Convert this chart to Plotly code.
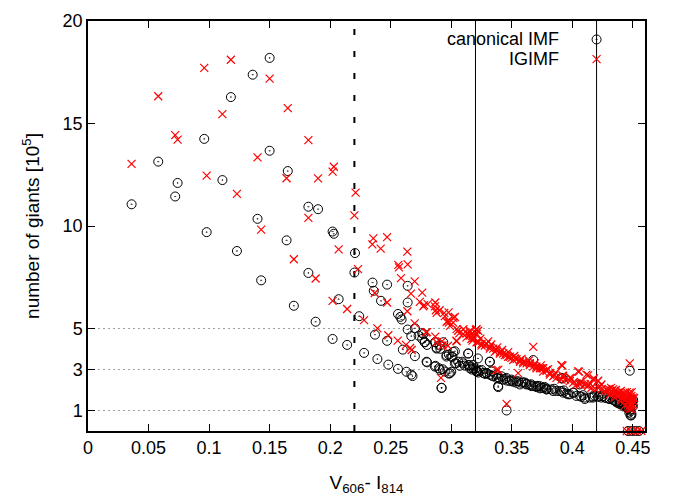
import plotly.graph_objects as go

# ---- data ----
canon_x = [0.036, 0.058, 0.074, 0.072, 0.096, 0.098, 0.111, 0.118, 0.123, 0.136, 0.140, 0.143,
           0.150, 0.150, 0.164, 0.165, 0.170, 0.182, 0.182, 0.188, 0.190, 0.202, 0.203, 0.202,
           0.207, 0.214, 0.2205, 0.220, 0.224,
           0.228, 0.235, 0.236, 0.247, 0.242, 0.237, 0.239, 0.247, 0.248, 0.256, 0.263, 0.267,
           0.268, 0.264, 0.264, 0.256, 0.258, 0.259, 0.260, 0.264, 0.267, 0.270, 0.270, 0.273,
           0.276, 0.276, 0.278, 0.280, 0.280, 0.287, 0.288, 0.291, 0.287, 0.290, 0.293, 0.298,
           0.300, 0.292, 0.296, 0.298, 0.301, 0.303, 0.304, 0.307, 0.309, 0.311, 0.314, 0.315,
           0.318, 0.320, 0.321, 0.322,
           0.3154, 0.3182, 0.3209, 0.3237, 0.3264, 0.3292, 0.3319, 0.3347, 0.3374, 0.3402,
           0.3429, 0.3457, 0.3484, 0.3512, 0.3539, 0.3567, 0.3594, 0.3622, 0.3649, 0.3677,
           0.3704, 0.3732, 0.3759, 0.3787, 0.3828, 0.3869, 0.3910, 0.3952, 0.3979, 0.4034,
           0.4075, 0.4103, 0.4144, 0.4185, 0.4213, 0.4240, 0.4282, 0.4309, 0.4337, 0.4364,
           0.4392, 0.4419, 0.4447, 0.4460, 0.4474, 0.4488, 0.4502, 0.4496,
           0.3170, 0.3225, 0.3280, 0.3335, 0.3390, 0.3445, 0.3500, 0.3555, 0.3610, 0.3660,
           0.3715, 0.3770, 0.3850, 0.3930, 0.4010, 0.4090, 0.4170, 0.4250, 0.4320,
           0.3319, 0.3388, 0.3457, 0.3677, 0.3918, 0.4474,
           0.436, 0.438, 0.440, 0.442, 0.444, 0.446, 0.448, 0.449, 0.450, 0.447, 0.448,
           0.2769, 0.2782, 0.2865, 0.2879, 0.2906, 0.2934, 0.2961, 0.3002, 0.3016, 0.3030,
           0.3057, 0.3099, 0.3140, 0.3154, 0.3140, 0.3209, 0.3250, 0.3291, 0.3318, 0.3332,
           0.3373, 0.3387, 0.3415, 0.3456, 0.3497, 0.3538, 0.3579, 0.3620, 0.3662, 0.3703,
           0.3745, 0.3786, 0.2796, 0.2865, 0.2906, 0.2947, 0.2989, 0.2920,
           0.3731, 0.3786, 0.3841, 0.3896, 0.3924, 0.3965, 0.4006, 0.4061, 0.4102, 0.4171,
           0.4226, 0.4267, 0.4308, 0.4350, 0.4391, 0.4432, 0.4460, 0.4487, 0.4501, 0.4061,
           0.3910,
           0.446, 0.449, 0.452, 0.455]
canon_y = [11.06, 13.14, 12.10, 11.44, 14.25, 9.70, 12.24, 16.29, 8.78, 17.38, 10.35, 7.35,
           18.20, 13.67, 9.30, 12.68, 6.11, 10.94, 7.71, 5.33, 10.82, 9.73, 9.62, 4.49,
           6.43, 4.20, 8.68, 7.73, 5.60,
           3.81, 7.24, 6.84, 7.14, 6.35, 4.70, 3.51, 4.40, 3.24, 3.03, 2.89, 2.75,
           2.68, 7.08, 6.27, 5.71, 5.57, 5.44, 3.97, 4.95, 4.63, 5.01, 3.65, 4.65,
           4.78, 4.49, 4.33, 4.20, 3.35, 4.33, 4.06, 4.01, 3.18, 3.06, 3.01, 2.80,
           2.89, 2.10, 3.63, 3.73, 3.62, 3.89, 3.30, 3.18, 3.38, 3.19, 3.78, 3.22,
           3.22, 3.06, 2.94, 3.54,
           3.14, 3.06, 2.90, 2.94, 2.83, 2.83, 2.75, 2.67, 2.59, 2.54,
           2.51, 2.46, 2.43, 2.40, 2.35, 2.27, 2.38, 2.30, 2.24, 2.19,
           2.14, 2.08, 2.11, 2.08, 2.03, 1.95, 1.95, 1.83, 1.79, 1.71,
           1.67, 1.56, 1.63, 1.71, 1.67, 1.63, 1.60, 1.56, 1.51, 1.40,
           1.32, 1.29, 1.19, 1.08, 1.00, 0.84, 1.51, 1.29,
           3.00, 2.85, 2.78, 2.70, 2.62, 2.55, 2.45, 2.42, 2.36, 2.28,
           2.20, 2.15, 2.06, 1.98, 1.87, 1.75, 1.68, 1.70, 1.62,
           3.38, 2.14, 1.00, 3.46, 2.56, 2.94,
           1.45, 1.35, 1.40, 1.20, 1.25, 1.30, 1.05, 1.45, 1.20, 0.90, 0.76,
           4.73, 4.33, 4.33, 4.02, 4.17, 4.33, 3.70, 3.62, 3.86, 3.30,
           3.38, 3.30, 3.22, 3.06, 3.78, 2.90, 2.98, 2.82, 3.38, 2.90,
           2.75, 2.19, 2.67, 2.59, 2.51, 2.43, 2.35, 2.27, 2.19, 2.19,
           2.11, 2.03, 3.38, 3.14, 2.98, 2.90, 2.82, 2.11,
           2.19, 2.03, 1.95, 1.95, 1.87, 1.79, 1.87, 1.71, 1.63, 1.63,
           1.71, 1.63, 1.56, 1.48, 1.40, 1.24, 1.08, 0.76, 1.48, 2.27,
           2.59,
           0.0, 0.0, 0.0, 0.0]

igimf_x = [0.036, 0.058, 0.072, 0.074, 0.096, 0.098, 0.111, 0.118, 0.123, 0.140, 0.143, 0.150,
           0.164, 0.165, 0.170, 0.182, 0.182, 0.188, 0.190, 0.202, 0.203, 0.202, 0.207, 0.214,
           0.221, 0.220, 0.223,
           0.228, 0.2356, 0.2348, 0.247, 0.2417, 0.2368, 0.239, 0.247, 0.248, 0.2637, 0.264,
           0.2563, 0.2568, 0.2585, 0.2698, 0.2667, 0.2637, 0.2558, 0.2626, 0.266, 0.2673,
           0.2698, 0.276, 0.274, 0.2775, 0.2805, 0.280, 0.2868, 0.2873, 0.2904, 0.2942, 0.2978,
           0.2868, 0.2923, 0.2972, 0.2915, 0.2962, 0.298, 0.303, 0.3016, 0.3044, 0.3066, 0.310,
           0.3127, 0.3154, 0.3176, 0.321, 0.3204, 0.3044,
           0.3154, 0.3176, 0.3209, 0.3223, 0.3250, 0.3278, 0.3305, 0.3319, 0.3347, 0.3374,
           0.3402, 0.3429, 0.3457, 0.3470, 0.3498, 0.3512, 0.3539, 0.3567, 0.3594, 0.3622,
           0.3649, 0.3677, 0.3704, 0.3732, 0.3759, 0.3787, 0.3814, 0.3842, 0.3869, 0.3910,
           0.3938, 0.3979, 0.4006, 0.4034, 0.4061, 0.4103, 0.4130, 0.4158, 0.4185, 0.4213,
           0.4240, 0.4268, 0.4295, 0.4323, 0.4350, 0.4378, 0.4405, 0.4433, 0.4460, 0.4488,
           0.4502, 0.4474, 0.4488,
           0.3190, 0.3240, 0.3290, 0.3330, 0.3380, 0.3420, 0.3470, 0.3520, 0.3580, 0.3640,
           0.3690, 0.3740, 0.3800, 0.3860, 0.3920, 0.3990, 0.4070, 0.4150, 0.4230, 0.4300,
           0.3677, 0.3918, 0.4056, 0.4130, 0.4177, 0.4213, 0.3388, 0.3457, 0.4474,
           0.432, 0.434, 0.436, 0.438, 0.440, 0.441, 0.443, 0.444, 0.445, 0.446, 0.447,
           0.448, 0.449, 0.450, 0.451, 0.449, 0.446,
           0.2769, 0.2865, 0.2879, 0.2947, 0.2975, 0.3016, 0.2989, 0.3057, 0.3099, 0.3126,
           0.3154, 0.3167, 0.3222, 0.3043, 0.3209, 0.3250, 0.3291, 0.3319, 0.3360, 0.3401,
           0.3442, 0.3484, 0.3525, 0.3566, 0.3594, 0.3648, 0.3703, 0.3745, 0.3786, 0.2790,
           0.2879, 0.2928, 0.3373, 0.3552,
           0.3759, 0.3814, 0.3855, 0.3910, 0.3924, 0.3979, 0.4047, 0.4061, 0.4116, 0.4130,
           0.4171, 0.4212, 0.4240, 0.4281, 0.4322, 0.4363, 0.4391, 0.4418, 0.4446, 0.4460,
           0.4473, 0.4432, 0.4473, 0.4350, 0.4405, 0.4501, 0.4487, 0.4336, 0.4308,
           0.445, 0.448, 0.451, 0.454, 0.457]
igimf_y = [13.03, 16.33, 14.43, 14.21, 17.71, 12.46, 15.46, 18.11, 11.57, 13.35, 9.82, 17.19,
           12.33, 15.75, 8.38, 14.19, 10.40, 7.44, 12.32, 12.65, 12.89, 6.35, 8.86, 5.95,
           11.63, 10.52, 7.90,
           5.41, 9.40, 9.10, 9.46, 8.90, 6.73, 5.01, 6.27, 4.67, 8.75, 8.13,
           8.10, 7.98, 7.46, 7.30, 6.70, 5.84, 4.41, 4.20, 4.05, 3.95,
           5.25, 6.75, 6.30, 6.14, 6.19, 4.82, 6.27, 5.89, 5.89, 5.76, 5.79,
           4.60, 4.37, 4.16, 2.59, 5.33, 5.29, 5.56, 5.29, 4.97, 4.76, 4.97,
           4.76, 4.89, 4.65, 4.73, 4.94, 4.37,
           4.65, 4.41, 4.97, 4.33, 4.25, 4.17, 4.37, 4.10, 4.02, 3.94,
           3.86, 3.78, 3.70, 3.62, 3.57, 3.46, 3.51, 3.38, 3.38, 3.30,
           3.22, 3.14, 3.06, 3.06, 2.90, 2.94, 2.75, 2.67, 2.59, 2.51,
           2.51, 2.43, 2.35, 2.27, 2.27, 2.27, 2.19, 2.11, 2.08, 2.11,
           2.03, 1.95, 1.95, 1.95, 1.95, 1.87, 1.79, 1.71, 1.63, 1.71,
           1.48, 1.24, 1.08,
           4.55, 4.50, 4.25, 4.22, 4.08, 3.95, 3.85, 3.66, 3.52, 3.44,
           3.30, 3.20, 3.02, 2.85, 2.70, 2.58, 2.40, 2.30, 2.18, 2.05,
           4.10, 3.19, 2.90, 2.71, 2.56, 2.46, 2.98, 1.32, 3.30,
           2.10, 1.85, 2.00, 1.75, 1.95, 1.60, 1.85, 1.50, 1.90, 1.40, 1.75,
           1.55, 1.90, 1.30, 1.60, 1.20, 1.15,
           6.08, 6.08, 5.76, 5.60, 5.37, 5.52, 5.13, 4.89, 4.73, 4.57,
           4.81, 4.49, 4.89, 4.41, 4.33, 4.17, 4.25, 4.02, 3.86, 3.78,
           3.70, 3.62, 3.54, 3.46, 3.30, 3.30, 3.14, 3.06, 2.98, 4.81,
           4.33, 4.17, 2.98, 2.82,
           3.06, 2.83, 2.75, 3.22, 2.67, 2.59, 2.91, 2.35, 2.75, 2.27,
           2.51, 2.43, 2.27, 2.03, 1.95, 1.87, 1.79, 1.71, 1.63, 1.40,
           1.87, 1.24, 1.08, 1.63, 1.48, 1.63, 1.32, 2.03, 1.79,
           0.0, 0.0, 0.0, 0.0, 0.0]

x_ticks = [0, 0.05, 0.1, 0.15, 0.2, 0.25, 0.3, 0.35, 0.4, 0.45]
y_ticks = [1, 3, 5, 10, 15, 20]
grid_levels = [1, 3, 5]
dashed_x = 0.22
solid_x = [0.32, 0.42]
legend_names = ["canonical IMF", "IGIMF"]
legend_y = [19.1, 18.14]

FONT = "Liberation Sans, Arial, Helvetica, sans-serif"

fig = go.Figure()

# grid / reference lines
for g in grid_levels:
    fig.add_shape(type="line", xref="paper", yref="y", x0=0, x1=1, y0=g, y1=g,
                  line=dict(color="#a0a0a0", width=1, dash="2px,3px"), layer="below")
fig.add_shape(type="line", xref="x", yref="paper", x0=dashed_x, x1=dashed_x, y0=0, y1=1,
              line=dict(color="black", width=2, dash="6px,16px"), layer="below")
for sx in solid_x:
    fig.add_shape(type="line", xref="x", yref="paper", x0=sx, x1=sx, y0=0, y1=1,
                  line=dict(color="black", width=1), layer="below")

circ = dict(symbol="circle-open-dot", size=9, color="black", line=dict(width=1, color="black"))
cross = dict(symbol="x-thin", size=8, color="red", line=dict(width=1.2, color="red"))

fig.add_trace(go.Scatter(x=canon_x, y=canon_y, mode="markers", marker=circ,
                         name=legend_names[0], showlegend=False, cliponaxis=False))
fig.add_trace(go.Scatter(x=igimf_x, y=igimf_y, mode="markers", marker=cross,
                         name=legend_names[1], showlegend=False, cliponaxis=False))

# legend (gnuplot style: text right-aligned, sample on the right)
fig.add_trace(go.Scatter(x=[solid_x[1]], y=[legend_y[0]], mode="markers", marker=circ,
                         showlegend=False, hoverinfo="skip"))
fig.add_trace(go.Scatter(x=[solid_x[1]], y=[legend_y[1]], mode="markers", marker=cross,
                         showlegend=False, hoverinfo="skip"))
for name, ly in zip(legend_names, legend_y):
    fig.add_annotation(x=solid_x[1], y=ly, xref="x", yref="y", text=name, showarrow=False,
                       xanchor="right", yanchor="middle", xshift=-36,
                       font=dict(family=FONT, size=18, color="black"))

axis_common = dict(showline=True, linecolor="black", linewidth=1.5, mirror="ticks",
                   ticks="inside", ticklen=7, tickcolor="black", tickwidth=1,
                   showgrid=False, zeroline=False,
                   tickfont=dict(family=FONT, size=18, color="black"))

fig.update_xaxes(range=[0, 0.46], tickvals=x_ticks,
                 ticktext=[("%g" % v) for v in x_ticks],
                 title=dict(text="V<sub>606</sub>- I<sub>814</sub>", standoff=18,
                            font=dict(family=FONT, size=19, color="black")),
                 **axis_common)
fig.update_yaxes(range=[0, 20], tickvals=y_ticks,
                 ticktext=[str(v) for v in y_ticks],
                 title=dict(text="number of giants [10<sup>5</sup>]", standoff=18,
                            font=dict(family=FONT, size=19, color="black")),
                 **axis_common)

fig.update_layout(width=676, height=501, plot_bgcolor="white", paper_bgcolor="white",
                  margin=dict(l=88, r=31, t=11, b=70, pad=0),
                  font=dict(family=FONT, size=18, color="black"))

fig.write_html("out.html")
